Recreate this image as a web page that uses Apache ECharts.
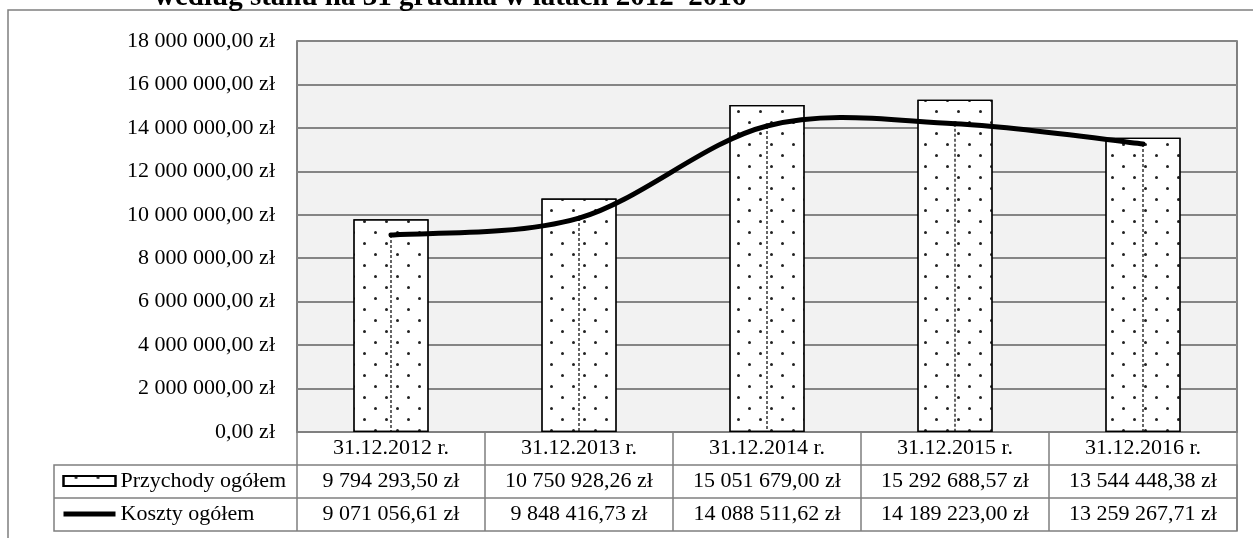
<!DOCTYPE html>
<html>
<head>
<meta charset="utf-8">
<script src="https://cdn.jsdelivr.net/npm/echarts@6/dist/echarts.min.js"></script>
<style>
  html, body { margin: 0; padding: 0; background: #fff; }
  #chart { width: 1253px; height: 538px; }
</style>
</head>
<body>
<div id="chart"></div>
<script>
// dane z tabeli pod wykresem
const categories = ["31.12.2012 r.", "31.12.2013 r.", "31.12.2014 r.", "31.12.2015 r.", "31.12.2016 r."];
const revenue = [9794293.5, 10750928.26, 15051679.0, 15292688.57, 13544448.38];
const costs = [9071056.61, 9848416.73, 14088511.62, 14189223.0, 13259267.71];
const seriesNames = ["Przychody ogółem", "Koszty ogółem"];
const yMin = 0;
const yMax = 18000000;
const yStep = 2000000;

const FONT = "Liberation Serif";
const FS = 22;
const GRID = { left: 297, right: 16, top: 41, bottom: 106 };
const W = 1253, H = 538;
const plotRight = W - GRID.right;
const axisY = H - GRID.bottom;
const rowH = 33;
const tableLeft = 54;

function zl(v) {
  const parts = Math.abs(v).toFixed(2).split(".");
  return parts[0].replace(/\B(?=(\d{3})+(?!\d))/g, " ") + "," + parts[1] + " zł";
}

// wygładzona linia jak w Excelu (Catmull-Rom -> Bezier), segment i -> i+1 + linia spadku
function renderCosts(params, api) {
  const i = params.dataIndex;
  const n = costs.length;
  const pt = (k) => api.coord([k, costs[Math.min(Math.max(k, 0), n - 1)]]);
  const p0 = api.coord([api.value(0), api.value(1)]);
  const base = api.coord([api.value(0), 0]);
  const children = [
    {
      type: "line",
      shape: { x1: p0[0], y1: p0[1], x2: base[0], y2: base[1] },
      style: { stroke: "#000", lineWidth: 1.2, lineDash: [3, 2] },
    },
  ];
  if (i < n - 1) {
    const pm = pt(i > 0 ? i - 1 : i);
    const p1 = pt(i + 1);
    const p2 = pt(i + 2 < n ? i + 2 : i + 1);
    children.push({
      type: "bezierCurve",
      shape: {
        x1: p0[0], y1: p0[1],
        cpx1: p0[0] + (p1[0] - pm[0]) / 6, cpy1: p0[1] + (p1[1] - pm[1]) / 6,
        cpx2: p1[0] - (p2[0] - p0[0]) / 6, cpy2: p1[1] - (p2[1] - p0[1]) / 6,
        x2: p1[0], y2: p1[1],
      },
      style: { stroke: "#000", lineWidth: 5, fill: null, lineCap: "round" },
    });
  }
  return { type: "group", children };
}

const chart = echarts.init(document.getElementById("chart"));

chart.setOption({
  backgroundColor: "#fff",
  animation: false,
  title: {
    text: "według stanu na 31 grudnia w latach 2012–2016",
    left: 154,
    top: -17,
    padding: 0,
    textStyle: { fontFamily: FONT, fontWeight: "bold", fontSize: 29, color: "#000" },
  },
  legend: {
    orient: "vertical",
    left: 61,
    top: axisY + rowH + 5,
    itemWidth: 52,
    itemHeight: 10,
    itemGap: 11,
    padding: 0,
    data: [
      { name: seriesNames[0], icon: "rect" },
      {
        name: seriesNames[1],
        itemStyle: { color: "rgba(0,0,0,0)", borderColor: "rgba(0,0,0,0)", borderWidth: 0 },
        lineStyle: { color: "#000", width: 5, opacity: 1 },
      },
    ],
    textStyle: { fontFamily: FONT, fontSize: FS, color: "#000", lineHeight: 22 },
  },
  grid: {
    left: GRID.left,
    right: GRID.right,
    top: GRID.top,
    bottom: GRID.bottom,
    show: true,
    backgroundColor: "#f2f2f2",
    borderColor: "#595959",
    borderWidth: 1.5,
  },
  xAxis: {
    type: "category",
    data: categories,
    axisLine: { show: true, lineStyle: { color: "#7f7f7f", width: 1.5 } },
    axisTick: { show: true, length: rowH * 3, lineStyle: { color: "#7f7f7f", width: 1.5 } },
    axisLabel: {
      interval: 0,
      margin: 0,
      lineHeight: rowH,
      fontFamily: FONT,
      fontSize: FS,
      color: "#000",
      formatter: (value, idx) => value + "\n" + zl(revenue[idx]) + "\n" + zl(costs[idx]),
    },
  },
  yAxis: {
    type: "value",
    min: yMin,
    max: yMax,
    interval: yStep,
    axisLine: { show: false },
    axisTick: { show: false },
    splitLine: { lineStyle: { color: "#858585", width: 2 } },
    axisLabel: {
      margin: 22,
      fontFamily: FONT,
      fontSize: FS,
      color: "#000",
      formatter: (v) => zl(v),
    },
  },
  series: [
    {
      name: seriesNames[0],
      type: "bar",
      data: revenue,
      barWidth: "40%",
      itemStyle: {
        color: "#fff",
        borderColor: "#000",
        borderWidth: 1.2,
        decal: {
          symbol: "circle",
          symbolSize: 1,
          color: "#222",
          dashArrayX: [[3, 19], [0, 11, 3, 8]],
          dashArrayY: [3, 8],
        },
      },
    },
    {
      // tylko dla ikony legendy
      name: seriesNames[1],
      type: "line",
      data: costs,
      symbol: "none",
      silent: true,
      lineStyle: { color: "#000", width: 5, opacity: 0 },
    },
    {
      name: seriesNames[1],
      type: "custom",
      data: costs.map((v, i) => [i, v]),
      encode: { x: 0, y: 1 },
      renderItem: renderCosts,
      silent: true,
      z: 3,
    },
  ],
  graphic: [
    {
      type: "rect",
      shape: { x: 8, y: 10, width: W + 40, height: H + 40 },
      style: { fill: null, stroke: "#7f7f7f", lineWidth: 1.5 },
    },
    {
      type: "rect",
      shape: { x: tableLeft, y: axisY + rowH, width: plotRight - tableLeft, height: rowH * 2 },
      style: { fill: null, stroke: "#7f7f7f", lineWidth: 1.5 },
    },
    {
      type: "line",
      shape: { x1: tableLeft, y1: axisY + rowH * 2, x2: plotRight, y2: axisY + rowH * 2 },
      style: { stroke: "#7f7f7f", lineWidth: 1.5 },
    },
  ],
});

window.onresize = function () {
  chart.resize();
};
</script>
</body>
</html>
